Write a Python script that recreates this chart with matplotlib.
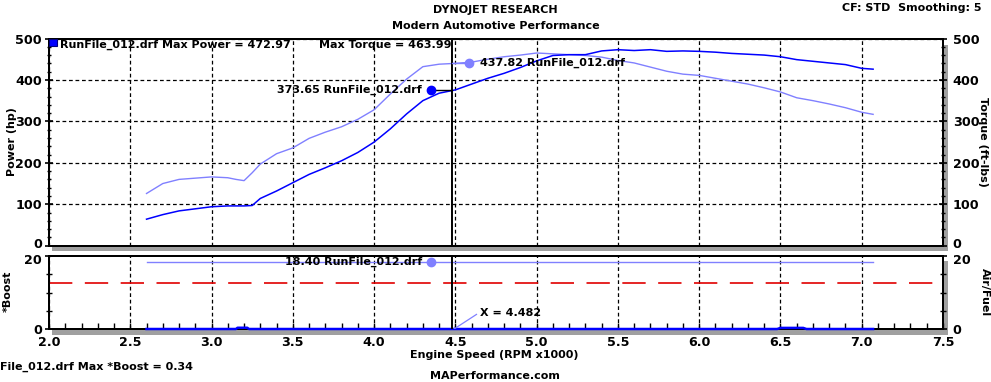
import matplotlib
matplotlib.use("Agg")
import matplotlib.pyplot as plt
from matplotlib.patches import Rectangle
from matplotlib.ticker import MultipleLocator
from matplotlib.transforms import ScaledTranslation

# ---------------- data ----------------
rpm_power = [2.60, 2.70, 2.80, 2.90, 3.00, 3.10, 3.20, 3.25, 3.30, 3.40, 3.50, 3.60, 3.70,
             3.80, 3.90, 4.00, 4.10, 4.20, 4.30, 4.40, 4.50, 4.60, 4.70, 4.80, 4.90,
             5.00, 5.10, 5.20, 5.30, 5.40, 5.50, 5.60, 5.70, 5.80, 5.90, 6.00, 6.10,
             6.20, 6.30, 6.40, 6.50, 6.60, 6.70, 6.80, 6.90, 7.00, 7.07]
power_hp = [64, 75, 84, 89, 94, 96, 96, 97, 114, 132, 152, 172, 188,
            205, 225, 250, 282, 318, 350, 368, 376, 390, 404, 416, 430,
            446, 459, 461, 461, 470, 473, 471, 473, 469, 470, 469, 467,
            464, 462, 460, 456, 449, 445, 441, 437, 428, 426]

rpm_torque = [2.60, 2.70, 2.80, 2.90, 3.00, 3.10, 3.15, 3.20, 3.25, 3.30, 3.40, 3.50, 3.60,
              3.70, 3.80, 3.90, 4.00, 4.10, 4.20, 4.30, 4.40, 4.50, 4.60, 4.70, 4.80,
              4.90, 5.00, 5.10, 5.20, 5.30, 5.40, 5.50, 5.60, 5.70, 5.80, 5.90, 6.00,
              6.10, 6.20, 6.30, 6.40, 6.50, 6.60, 6.70, 6.80, 6.90, 7.00, 7.07]
torque_ftlb = [126, 150, 160, 163, 166, 164, 160, 157, 176, 197, 222, 236, 259,
               274, 287, 305, 328, 366, 402, 432, 438, 440, 443, 450, 456,
               460, 465, 463, 461, 459, 455, 447, 441, 431, 421, 414, 411,
               404, 397, 390, 381, 371, 357, 350, 342, 333, 322, 317]

rpm_boost = [2.60, 3.15, 3.16, 3.22, 3.23, 6.48, 6.50, 6.64, 6.66, 7.07]
boost = [0, 0, 0.34, 0.34, 0, 0, 0.3, 0.3, 0, 0]

rpm_afr = [2.60, 7.07]
afr = [18.40, 18.40]
afr_target = 12.7

cursor_x = 4.482
power_at_cursor = 373.65
torque_at_cursor = 437.82
afr_at_cursor = 18.40
max_power = 472.97
max_torque = 463.99
max_boost = 0.34

x_ticks = [2.0, 2.5, 3.0, 3.5, 4.0, 4.5, 5.0, 5.5, 6.0, 6.5, 7.0, 7.5]
x_tick_labels = ["2.0", "2.5", "3.0", "3.5", "4.0", "4.5", "5.0", "5.5", "6.0", "6.5", "7.0", "7.5"]

# ---------------- style ----------------
DARK = "#0000FF"
LIGHT = "#8080FF"
RED = "#E00000"
GRAY = "#A0A0A0"
W, H = 991, 382
FS_TICK = 9.2
FS_TXT = 8

plt.rcParams['font.family'] = ['DejaVu Sans']
plt.rcParams['font.weight'] = 'bold'

fig = plt.figure(figsize=(W / 100, H / 100), dpi=100)

def fx(px):
    return px / W

def fy(py):
    return 1 - py / H

L, R = 49, 943
T1, B1 = 38.5, 245.7
T2, B2 = 256.0, 329.0

ax1 = fig.add_axes([fx(L), fy(B1), fx(R) - fx(L), fy(T1) - fy(B1)])
ax2 = fig.add_axes([fx(L), fy(B2), fx(R) - fx(L), fy(T2) - fy(B2)])

# shadows
for (x0, y0, x1, y1) in [(52, B1 + 1, R + 4, B1 + 5.5), (R + 1, T1 + 6, R + 4.5, B1 + 5.5),
                         (52, B2 + 1, R + 4, B2 + 5.5), (R + 1, T2 + 5, R + 4.5, B2 + 5.5)]:
    fig.add_artist(Rectangle((fx(x0), fy(y1)), fx(x1) - fx(x0), fy(y0) - fy(y1),
                             transform=fig.transFigure, color=GRAY, lw=0, zorder=-5))

grid_kw = dict(color="black", linestyle=(0, (3, 2.2)), linewidth=0.9)

for ax in (ax1, ax2):
    ax.set_xlim(2.0, 7.5)
    ax.set_xticks(x_ticks)
    for s in ax.spines.values():
        s.set_linewidth(1.4)

# ---------- top plot ----------
ax1.set_ylim(0, 500)
ax1.set_yticks([0, 100, 200, 300, 400, 500])
ax1.yaxis.set_minor_locator(MultipleLocator(20))
ax1.tick_params(axis='x', length=0, labelbottom=False)
ax1.tick_params(axis='y', which='major', direction='inout', length=6, width=1.2,
                labelsize=FS_TICK, pad=2)
ax1.tick_params(axis='y', which='minor', direction='inout', length=3.5, width=1)
ax1.grid(True, **grid_kw)
ax1.set_axisbelow(True)

ax1r = ax1.twinx()
ax1r.set_ylim(0, 500)
ax1r.set_yticks([0, 100, 200, 300, 400, 500])
ax1r.yaxis.set_minor_locator(MultipleLocator(20))
ax1r.tick_params(axis='y', which='major', direction='inout', length=6, width=1.2,
                 labelsize=FS_TICK, pad=4)
ax1r.tick_params(axis='y', which='minor', direction='inout', length=3.5, width=1)
for s in ax1r.spines.values():
    s.set_linewidth(1.4)

ax1r.plot(rpm_torque, torque_ftlb, color=LIGHT, lw=1.0, zorder=3)
ax1r.plot(rpm_power, power_hp, color=DARK, lw=1.1, zorder=4)
ax1r.axvline(cursor_x, color="black", lw=1.4, zorder=5)

# cursor annotations
ax1r.plot([4.35, cursor_x], [power_at_cursor + 3, power_at_cursor + 3], color="black", lw=1, zorder=5)
ax1r.plot([4.35], [power_at_cursor + 3], 'o', color=DARK, ms=6, zorder=6)
ax1r.text(4.295, power_at_cursor + 3, f"{power_at_cursor:.2f} RunFile_012.drf", ha='right', va='center',
          fontsize=FS_TXT, fontweight='bold', zorder=6)
ax1r.plot([cursor_x, 4.585], [torque_at_cursor + 3, torque_at_cursor + 3], color=LIGHT, lw=1, zorder=5)
ax1r.plot([4.585], [torque_at_cursor + 3], 'o', color=LIGHT, ms=6, zorder=6)
ax1r.text(4.65, torque_at_cursor + 3, f"{torque_at_cursor:.2f} RunFile_012.drf", ha='left', va='center',
          fontsize=FS_TXT, fontweight='bold', zorder=6)

# legend line
ax1r.add_patch(Rectangle((0.0, 0.962), 0.009, 0.038, transform=ax1r.transAxes,
                         facecolor=DARK, edgecolor="#000080", lw=0.8, zorder=7, clip_on=False))
ax1r.text(0.0123, 0.9686, f"RunFile_012.drf Max Power = {max_power:.2f}", transform=ax1r.transAxes,
          ha='left', va='center', fontsize=FS_TXT, fontweight='bold', zorder=7)
ax1r.text(0.302, 0.9686, f"Max Torque = {max_torque:.2f}", transform=ax1r.transAxes,
          ha='left', va='center', fontsize=FS_TXT, fontweight='bold', zorder=7)

# ---------- bottom plot ----------
ax2.set_ylim(0, 20)
ax2.set_yticks([0, 20])
ax2.yaxis.set_minor_locator(MultipleLocator(5))
ax2.xaxis.set_minor_locator(MultipleLocator(0.1))
ax2.set_xticklabels(x_tick_labels)
ax2.tick_params(axis='x', which='both', direction='in', length=4, width=1, labelsize=FS_TICK, pad=5)
ax2.tick_params(axis='y', which='major', direction='inout', length=6, width=1.2,
                labelsize=FS_TICK, pad=2)
ax2.tick_params(axis='y', which='minor', direction='inout', length=5, width=1)
ax2.grid(True, axis='x', **grid_kw)
ax2.set_axisbelow(True)

ax2r = ax2.twinx()
ax2r.set_ylim(0, 20)
ax2r.set_yticks([0, 20])
ax2r.yaxis.set_minor_locator(MultipleLocator(5))
ax2r.tick_params(axis='y', which='major', direction='inout', length=6, width=1.2,
                 labelsize=FS_TICK, pad=4)
ax2r.tick_params(axis='y', which='minor', direction='inout', length=5, width=1)
for s in ax2r.spines.values():
    s.set_linewidth(1.4)

for a in (ax1, ax1r, ax2, ax2r):
    for lbl in a.get_xticklabels() + a.get_yticklabels():
        lbl.set_fontweight('bold')

# nudge the touching 0 / 20 labels apart
up = ScaledTranslation(0, 2 / 72, fig.dpi_scale_trans)
down = ScaledTranslation(0, -2 / 72, fig.dpi_scale_trans)
for a in (ax1, ax1r):
    lbls = a.get_yticklabels()
    lbls[0].set_transform(lbls[0].get_transform() + up)
for a in (ax2, ax2r):
    lbls = a.get_yticklabels()
    lbls[-1].set_transform(lbls[-1].get_transform() + down)

ax2r.axhline(afr_target, color=RED, lw=1.2, linestyle=(0, (14, 7.5)), zorder=2)
ax2r.plot(rpm_afr, afr, color=LIGHT, lw=1.0, zorder=3)
ax2r.plot(rpm_boost, boost, color=DARK, lw=1.8, zorder=4, clip_on=False)
ax2r.axvline(cursor_x, color="black", lw=1.4, zorder=5)
ax2r.plot([4.35], [afr_at_cursor], 'o', color=LIGHT, ms=6, zorder=6)
ax2r.text(4.295, afr_at_cursor, f"{afr_at_cursor:.2f} RunFile_012.drf", ha='right', va='center',
          fontsize=FS_TXT, fontweight='bold', zorder=6)
ax2r.plot([cursor_x + 0.01, 4.63], [0, 4.0], color=LIGHT, lw=0.9, zorder=6)
ax2r.text(4.65, 4.3, f"X = {cursor_x:.3f}", ha='left', va='center',
          fontsize=FS_TXT, fontweight='bold', zorder=6)

# ---------- figure texts ----------
fig.text(fx(495), fy(10), "DYNOJET RESEARCH", ha='center', va='center', fontsize=FS_TXT, fontweight='bold')
fig.text(fx(495.5), fy(26), "Modern Automotive Performance", ha='center', va='center', fontsize=FS_TXT, fontweight='bold')
fig.text(fx(981), fy(8), "CF: STD  Smoothing: 5", ha='right', va='center', fontsize=FS_TXT, fontweight='bold')
fig.text(fx(12), fy(142), "Power (hp)", rotation=90, ha='center', va='center', fontsize=FS_TXT, fontweight='bold')
fig.text(fx(983), fy(142), "Torque (ft-lbs)", rotation=270, ha='center', va='center', fontsize=FS_TXT, fontweight='bold')
fig.text(fx(8), fy(291), "*Boost", rotation=90, ha='center', va='center', fontsize=FS_TXT, fontweight='bold')
fig.text(fx(985), fy(292), "Air/Fuel", rotation=270, ha='center', va='center', fontsize=FS_TXT, fontweight='bold')
fig.text(fx(494.5), fy(355), "Engine Speed (RPM x1000)", ha='center', va='center', fontsize=FS_TXT, fontweight='bold')
fig.text(fx(495), fy(376), "MAPerformance.com", ha='center', va='center', fontsize=FS_TXT, fontweight='bold')
fig.text(fx(0), fy(367), f"File_012.drf Max *Boost = {max_boost:.2f}", ha='left', va='center',
         fontsize=FS_TXT, fontweight='bold')

fig.savefig("out.png", dpi=100)
